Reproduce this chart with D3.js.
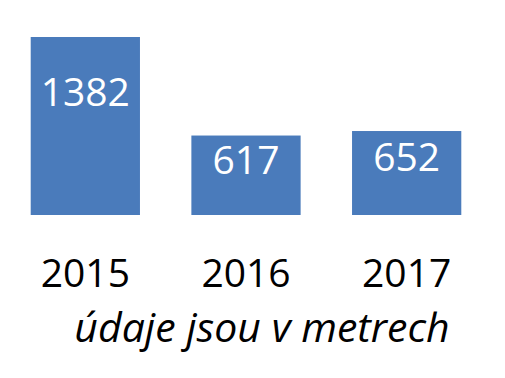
<!DOCTYPE html>
<html lang="cs">
<head>
    <meta charset="UTF-8">
    <title>Délka v metrech</title>
    <script src="https://d3js.org/d3.v7.min.js"></script>
    <style>
        body { margin: 0; background: #fff; }
        text { font-family: "Open Sans", sans-serif; }
    </style>
</head>
<body>
    <svg id="chart"></svg>
    <script>
        const years = ['2015', '2016', '2017'];
        const values = [1382, 617, 652];
        const caption = 'údaje jsou v metrech';

        const width = 505;
        const height = 378;

        const svg = d3.select('#chart')
            .attr('width', width)
            .attr('height', height);

        const x = d3.scaleBand()
            .domain(years)
            .range([5, 487])
            .paddingInner(0.32)
            .paddingOuter(0.16);

        const y = d3.scaleLinear()
            .domain([0, d3.max(values)])
            .range([215, 37]);

        const data = years.map((yr, i) => ({ year: yr, value: values[i] }));

        // bars
        svg.selectAll('.bar')
            .data(data)
            .enter().append('rect')
            .attr('class', 'bar')
            .attr('x', d => x(d.year))
            .attr('y', d => y(d.value))
            .attr('width', x.bandwidth())
            .attr('height', d => y(0) - y(d.value))
            .attr('fill', '#4a7bbb');

        // value labels inside the bars, roughly a third down
        svg.selectAll('.val')
            .data(data)
            .enter().append('text')
            .attr('class', 'val')
            .attr('x', d => x(d.year) + x.bandwidth() / 2)
            .attr('y', d => y(d.value) + (y(0) - y(d.value)) * 0.31 + 14)
            .attr('text-anchor', 'middle')
            .attr('font-size', 39)
            .attr('fill', '#fff')
            .text(d => d.value);

        // x axis labels, no line or ticks
        const xAxis = svg.append('g')
            .attr('transform', `translate(0,${y(0)})`)
            .call(d3.axisBottom(x).tickSize(0).tickPadding(0));
        xAxis.select('.domain').remove();
        xAxis.selectAll('text')
            .attr('dy', null)
            .attr('y', 72)
            .attr('font-size', 39)
            .attr('font-family', '"Open Sans", sans-serif')
            .attr('fill', '#000');

        svg.append('text')
            .attr('x', 262)
            .attr('y', 342)
            .attr('text-anchor', 'middle')
            .attr('font-size', 41)
            .attr('font-style', 'italic')
            .attr('fill', '#000')
            .text(caption);
    </script>
</body>
</html>
